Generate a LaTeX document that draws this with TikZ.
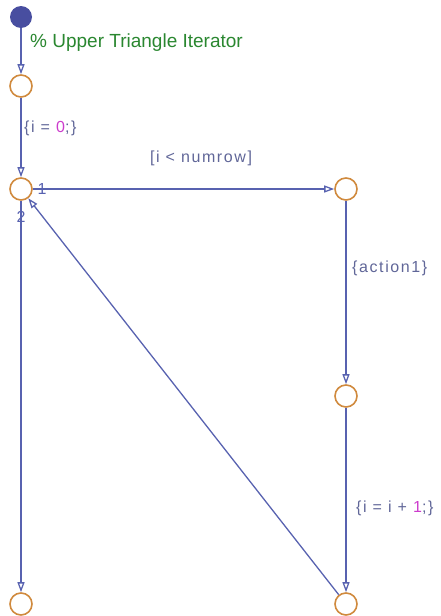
\documentclass[tikz,border=0pt]{standalone}
\usepackage{fontspec}
\setmainfont{Liberation Sans}
\newfontfamily\lblfont[LetterSpace=10]{Liberation Sans}
\usetikzlibrary{arrows.meta}
\definecolor{linecol}{RGB}{88,98,176}
\definecolor{junccol}{RGB}{208,138,62}
\definecolor{dotcol}{RGB}{72,78,160}
\definecolor{txtcol}{RGB}{96,102,152}
\definecolor{numcol}{RGB}{204,60,204}
\definecolor{cmtcol}{RGB}{42,135,48}
\begin{document}
\begin{tikzpicture}[x=1pt,y=-1pt,
  junc/.style={circle,draw=junccol,line width=1.6pt,minimum size=22pt,inner sep=0pt},
  startdot/.style={circle,fill=dotcol,minimum size=22pt,inner sep=0pt},
  flow/.style={draw=linecol,line width=1.3pt,-{Triangle[open,length=10pt,width=7pt]}},
  lbl/.style={text=txtcol,font=\lblfont\fontsize{16}{18}\selectfont,inner sep=0pt}]
\useasboundingbox (0,0) rectangle (441,616);

\node[startdot] (start) at (21,17) {};
\node[junc] (j1) at (21,86) {};
\node[junc] (j2) at (21,189) {};
\node[junc] (j3) at (346,189) {};
\node[junc] (j4) at (346,396) {};
\node[junc] (j5) at (21,604) {};
\node[junc] (j6) at (346,604) {};

\node[anchor=base west,inner sep=0pt,text=cmtcol,font=\fontsize{19}{21}\selectfont] (cmt) at (30,47) {\% Upper Triangle Iterator};

\draw[flow] (start) -- (j1);
\draw[flow] (j1) -- (j2);
\draw[flow] (j2) -- (j3);
\draw[flow] (j2) -- (j5);
\draw[flow] (j3) -- (j4);
\draw[flow] (j4) -- (j6);
\draw[flow] (j6) -- (j2);

\node[lbl,anchor=west] (init) at (24,128) {\{i = {\color{numcol}0};\}};
\node[lbl] (cond) at (201,158) {[i < numrow]};
\node[lbl,text=linecol] (ord1) at (42,189) {1};
\node[lbl,text=linecol] (ord2) at (21,217) {2};
\node[lbl,anchor=west] (act) at (352,268) {\{action1\}};
\node[lbl,anchor=west] (incr) at (356,508) {\{i = i + {\color{numcol}1};\}};
\end{tikzpicture}
\end{document}
